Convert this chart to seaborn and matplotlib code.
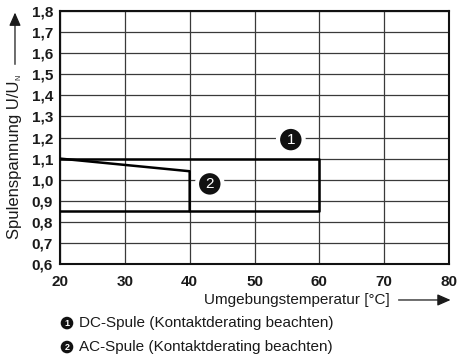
import matplotlib
matplotlib.use("Agg")
import matplotlib.pyplot as plt
import seaborn as sns
import pandas as pd

# Operating ranges of the coil voltage over ambient temperature
dc_temp = [20, 60, 60, 20]
dc_volt = [0.85, 0.85, 1.1, 1.1]
ac_temp = [20, 40, 40]
ac_volt = [1.1, 1.04, 0.85]

x_ticks = [20, 30, 40, 50, 60, 70, 80]
y_ticks = [0.6, 0.7, 0.8, 0.9, 1.0, 1.1, 1.2, 1.3, 1.4, 1.5, 1.6, 1.7, 1.8]
y_tick_labels = ["0,6", "0,7", "0,8", "0,9", "1,0", "1,1", "1,2", "1,3",
                 "1,4", "1,5", "1,6", "1,7", "1,8"]

legend_items = ["DC-Spule (Kontaktderating beachten)",
                "AC-Spule (Kontaktderating beachten)"]
marker_labels = ["1", "2"]
marker_pos = [(55.6, 1.19), (43.1, 0.98)]

sns.set_theme(style="white")
plt.rcParams["font.family"] = ["Liberation Sans", "DejaVu Sans"]

df = pd.concat([
    pd.DataFrame({"temp": dc_temp, "volt": dc_volt, "coil": "DC"}),
    pd.DataFrame({"temp": ac_temp, "volt": ac_volt, "coil": "AC"}),
])

fig = plt.figure(figsize=(4.57, 3.63), dpi=100)
ax = fig.add_axes([0.1313, 0.2727, 0.8512, 0.697])

sns.lineplot(data=df, x="temp", y="volt", units="coil", estimator=None,
             sort=False, color="black", linewidth=1.8, ax=ax, zorder=3)

ax.set_xlim(20, 80)
ax.set_ylim(0.6, 1.8)
ax.set_xticks(x_ticks)
ax.set_xticklabels([str(t) for t in x_ticks], fontweight="bold", fontsize=11)
ax.set_yticks(y_ticks)
ax.set_yticklabels(y_tick_labels, fontweight="bold", fontsize=11)
ax.tick_params(axis="both", length=0, colors="#1a1a1a")
ax.tick_params(axis="y", pad=5)
ax.tick_params(axis="x", pad=8)
ax.grid(True, color="#3a3a3a", linewidth=0.9)
for s in ax.spines.values():
    s.set_color("#111111")
    s.set_linewidth(1.5)
ax.set_xlabel("")
ax.set_ylabel("")

# numbered markers inside the chart
for lab, (mx, my) in zip(marker_labels, marker_pos):
    ax.text(mx, my, lab, color="white", fontsize=11, ha="center", va="center",
            zorder=5,
            bbox=dict(boxstyle="circle,pad=0.38", facecolor="#111111",
                      edgecolor="white", linewidth=3))

# vertical axis title: "U/U" with a small subscript N, then an arrow
ylab = fig.text(0.0328, 0.3416, "Spulenspannung U/U", rotation=90,
                ha="center", va="bottom", fontsize=12, color="#1a1a1a")
fig.canvas.draw()
bb = ylab.get_window_extent().transformed(fig.transFigure.inverted())
fig.text(0.0328 + 0.009, bb.y1 + 0.001, "N", rotation=90, ha="center",
         va="bottom", fontsize=5, color="#1a1a1a")
fig.patches.append(matplotlib.patches.FancyArrowPatch(
    (0.0328, 0.815), (0.0328, 0.973), transform=fig.transFigure,
    arrowstyle="-|>,head_length=5,head_width=2.2", mutation_scale=1.6,
    color="#1a1a1a", linewidth=0.9))

# horizontal axis title with arrow
fig.text(0.853, 0.1736, "Umgebungstemperatur [°C]", ha="right", va="center",
         fontsize=11, color="#1a1a1a")
fig.patches.append(matplotlib.patches.FancyArrowPatch(
    (0.866, 0.1736), (0.992, 0.1736), transform=fig.transFigure,
    arrowstyle="-|>,head_length=5,head_width=2.2", mutation_scale=1.6,
    color="#1a1a1a", linewidth=0.9))

# legend lines below the chart
for i, (lab, txt) in enumerate(zip(marker_labels, legend_items)):
    y = 0.110 - i * 0.066
    fig.text(0.1466, y, lab, color="white", fontsize=6.5, ha="center",
             va="center", fontweight="bold",
             bbox=dict(boxstyle="circle,pad=0.2", facecolor="#111111",
                       edgecolor="none"))
    fig.text(0.1729, y, txt, ha="left", va="center", fontsize=11,
             color="#1a1a1a")

fig.savefig("out.png", dpi=100)
